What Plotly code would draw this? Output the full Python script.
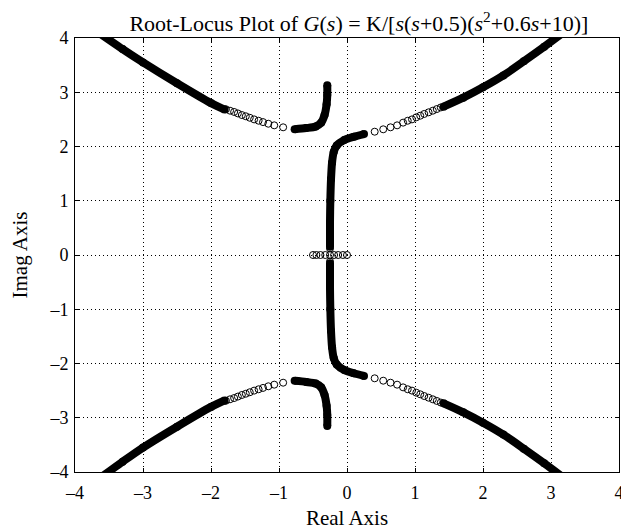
import plotly.graph_objects as go

# ---- data (real part, imaginary part) ----
# upper-left asymptotic branch, dense (solid) part
ul_thick_re = [-3.70, -3.30, -3.00, -2.50, -2.00, -1.80]
ul_thick_im = [4.14, 3.795, 3.55, 3.165, 2.80, 2.68]
# upper-left branch, sparse (open circle) part
ul_open_re = [-1.78, -1.72, -1.66, -1.605, -1.546, -1.488, -1.43, -1.366, -1.30, -1.235, -1.157, -1.07, -0.939]
ul_open_im = [2.686, 2.66, 2.637, 2.61, 2.58, 2.557, 2.53, 2.50, 2.475, 2.45, 2.42, 2.39, 2.354]
# short branch leaving the upper complex pole
up_pole_re = [-0.29, -0.29, -0.30, -0.33, -0.38, -0.46, -0.60, -0.77]
up_pole_im = [3.13, 2.95, 2.78, 2.58, 2.44, 2.37, 2.34, 2.32]
# branch rising from the breakaway point (upper)
up_mid_re = [-0.25, -0.25, -0.245, -0.235, -0.22, -0.195, -0.15, -0.04, 0.10, 0.25]
up_mid_im = [0.15, 0.60, 1.00, 1.40, 1.70, 1.90, 2.02, 2.12, 2.18, 2.23]
# upper-right branch, open circles
ur_open_re = [0.407, 0.533, 0.64, 0.737, 0.825, 0.893, 0.956, 1.019, 1.077, 1.136, 1.20, 1.262, 1.32, 1.379]
ur_open_im = [2.273, 2.317, 2.354, 2.39, 2.44, 2.475, 2.50, 2.538, 2.568, 2.60, 2.63, 2.66, 2.69, 2.72]
# upper-right asymptotic branch, dense part
ur_thick_re = [1.42, 1.71, 2.00, 2.30, 2.60, 2.90, 3.20]
ur_thick_im = [2.735, 2.90, 3.09, 3.31, 3.57, 3.84, 4.12]

# lower half (complex conjugates)
ll_thick_re = [-3.62, -3.30, -3.00, -2.50, -2.00, -1.80]
ll_thick_im = [-4.10, -3.81, -3.55, -3.165, -2.80, -2.68]
ll_open_re = [-1.78, -1.72, -1.66, -1.605, -1.546, -1.488, -1.43, -1.366, -1.30, -1.235, -1.157, -1.07, -0.939]
ll_open_im = [-2.686, -2.66, -2.637, -2.61, -2.58, -2.557, -2.53, -2.50, -2.475, -2.45, -2.42, -2.39, -2.354]
lo_pole_re = [-0.29, -0.29, -0.30, -0.33, -0.38, -0.46, -0.60, -0.77]
lo_pole_im = [-3.15, -2.95, -2.78, -2.58, -2.44, -2.37, -2.34, -2.32]
lo_mid_re = [-0.25, -0.25, -0.245, -0.235, -0.22, -0.195, -0.15, -0.04, 0.10, 0.25]
lo_mid_im = [-0.15, -0.60, -1.00, -1.40, -1.70, -1.90, -2.02, -2.12, -2.18, -2.23]
lr_open_re = [0.407, 0.533, 0.64, 0.737, 0.825, 0.893, 0.956, 1.019, 1.077, 1.136, 1.20, 1.262, 1.32, 1.379]
lr_open_im = [-2.273, -2.317, -2.354, -2.39, -2.44, -2.475, -2.50, -2.538, -2.568, -2.60, -2.63, -2.66, -2.69, -2.72]
lr_thick_re = [1.42, 1.71, 2.00, 2.30, 2.60, 2.90, 3.20]
lr_thick_im = [-2.735, -2.90, -3.09, -3.31, -3.57, -3.84, -4.12]

# real-axis segment (open circles)
ra_open_re = [-0.50, -0.45, -0.39, -0.32, -0.25, -0.19, -0.13, -0.06, 0.0, -0.25, -0.25]
ra_open_im = [0, 0, 0, 0, 0, 0, 0, 0, 0, 0.12, -0.12]

tick_vals = [-4, -3, -2, -1, 0, 1, 2, 3, 4]
tick_text = ["\u20134", "\u20133", "\u20132", "\u20131", "0", "1", "2", "3", "4"]

FONT = "Liberation Serif"
fig = go.Figure()

thick = [(ul_thick_re, ul_thick_im), (up_pole_re, up_pole_im), (up_mid_re, up_mid_im),
         (ur_thick_re, ur_thick_im), (ll_thick_re, ll_thick_im), (lo_pole_re, lo_pole_im),
         (lo_mid_re, lo_mid_im), (lr_thick_re, lr_thick_im)]
for xs, ys in thick:
    fig.add_trace(go.Scatter(x=xs, y=ys, mode="lines+markers",
                             line=dict(color="black", width=8, shape="spline", smoothing=0.8),
                             marker=dict(color="black", size=8),
                             showlegend=False, hoverinfo="skip"))

opens = [(ul_open_re, ul_open_im), (ur_open_re, ur_open_im), (ll_open_re, ll_open_im),
         (lr_open_re, lr_open_im), (ra_open_re, ra_open_im)]
for xs, ys in opens:
    fig.add_trace(go.Scatter(x=xs, y=ys, mode="markers",
                             marker=dict(symbol="circle-open", color="black", size=7,
                                         line=dict(width=1, color="black")),
                             showlegend=False, hoverinfo="skip"))

axis_common = dict(range=[-4, 4], tickvals=tick_vals, ticktext=tick_text,
                   showgrid=True, gridcolor="black", gridwidth=1, griddash="1px,3px",
                   zeroline=False, showline=True, linecolor="black", linewidth=1,
                   mirror="ticks", ticks="inside", ticklen=4, tickcolor="black",
                   ticklabeloverflow="allow",
                   tickfont=dict(family=FONT, size=18, color="black"))

# the page body adds an 8 px margin, so the figure is sized to fit the window
fig.update_layout(
    width=621, height=523,
    margin=dict(l=67, r=5, t=30, b=59),
    paper_bgcolor="white", plot_bgcolor="white",
    title=dict(text="Root-Locus Plot of <i>G</i>(<i>s</i>) = K/[<i>s</i>(<i>s</i>+0.5)(<i>s</i><sup>2</sup>+0.6<i>s</i>+10)]",
               x=0.565, xanchor="center", xref="container", y=0.985, yanchor="top", yref="container",
               pad=dict(t=0, b=0), font=dict(family=FONT, size=22, color="black")),
    xaxis=dict(axis_common, ticklabelstandoff=4,
               title=dict(text="Real Axis", font=dict(family=FONT, size=21, color="black"), standoff=8)),
    yaxis=dict(axis_common, ticklabelstandoff=2,
               title=dict(text="Imag Axis", font=dict(family=FONT, size=21, color="black"), standoff=18)),
)

fig.write_html("out.html")
